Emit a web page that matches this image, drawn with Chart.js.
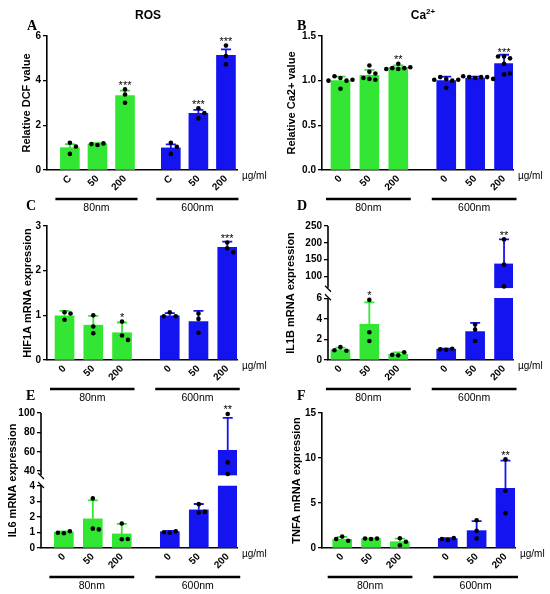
<!DOCTYPE html>
<html>
<head>
<meta charset="utf-8">
<script src="https://cdn.jsdelivr.net/npm/chart.js@4.4.0/dist/chart.umd.min.js"></script>
<style>
  body { margin: 0; background: #fff; width: 550px; height: 594px; position: relative; overflow: hidden; }
  .panel { position: absolute; }
</style>
</head>
<body>
<div class="panel" id="pA"><canvas></canvas></div>
<div class="panel" id="pB"><canvas></canvas></div>
<div class="panel" id="pC"><canvas></canvas></div>
<div class="panel" id="pD"><canvas></canvas></div>
<div class="panel" id="pE"><canvas></canvas></div>
<div class="panel" id="pF"><canvas></canvas></div>
<script>
// ---- data ----
const dosesC = ['C', '50', '200', 'C', '50', '200'];
const doses0 = ['0', '50', '200', '0', '50', '200'];
const sizes = ['80nm', '600nm'];

// A - ROS
const rosMean = [1.0, 1.17, 3.33, 0.99, 2.54, 5.13];
const rosErr = [0.16, 0.03, 0.22, 0.16, 0.15, 0.27];
const rosPts = [[1.22, 1.05, 0.72], [1.12, 1.19, 1.16], [3.61, 3.38, 3.01], [1.22, 1.04, 0.72], [2.76, 2.55, 2.31], [5.57, 5.1, 4.73]];
const rosSig = ['', '', '***', '', '***', '***'];
const rosTicks = [0, 2, 4, 6];

// B - Ca2+
const caMean = [1.0, 1.06, 1.15, 1.0, 1.03, 1.19];
const caErr = [0.045, 0.06, 0.02, 0.045, 0.015, 0.1];
const caPts = [[1.03, 1.0, 1.05, 1.01, 0.91, 1.0], [1.17, 1.1, 1.02, 1.01, 1.08, 1.03], [1.19, 1.14, 1.14, 1.13, 1.15, 1.13],
               [1.02, 1.0, 1.04, 1.01, 0.92, 1.01], [1.03, 1.04, 1.04, 1.04, 1.05, 1.02], [1.27, 1.25, 1.27, 1.19, 1.07, 1.08]];
const caSig = ['', '', '**', '', '', '***'];
const caTicks = [0, 0.5, 1.0, 1.5];

// C - HIF1A
const hifMean = [0.99, 0.78, 0.61, 0.99, 0.86, 2.52];
const hifErr = [0.11, 0.21, 0.23, 0.06, 0.24, 0.13];
const hifPts = [[1.07, 0.9, 1.04], [1.0, 0.75, 0.6], [0.86, 0.55, 0.45], [1.07, 0.98, 0.98], [1.04, 0.92, 0.61], [2.63, 2.5, 2.41]];
const hifSig = ['', '', '*', '', '', '***'];
const hifTicks = [0, 1, 2, 3];

// D - IL1B (broken axis)
const il1bMean = [1.0, 3.47, 0.55, 1.05, 2.76, 137];
const il1bErr = [0.2, 2.13, 0.2, 0.05, 0.84, 73];
const il1bPts = [[1.25, 0.9, 0.95], [5.84, 2.7, 1.85], [0.45, 0.75, 0.5], [1.0, 1.1, 1.05], [3.45, 2.95, 1.85], [210, 135, 70]];
const il1bSig = ['', '*', '', '', '', '**'];
const il1bTicks = [0, 2, 4, 6, 100, 150, 200, 250];

// E - IL6 (broken axis)
const il6Mean = [1.02, 1.88, 0.91, 1.05, 2.46, 61.5];
const il6Err = [0.05, 1.19, 0.65, 0.05, 0.38, 33.5];
const il6Pts = [[0.95, 1.08, 0.98], [3.2, 1.25, 1.2], [1.58, 0.56, 0.58], [0.98, 1.08, 1.02], [2.83, 2.29, 2.33], [99, 49, 37]];
const il6Sig = ['', '', '', '', '', '**'];
const il6Ticks = [0, 1, 2, 3, 4, 40, 60, 80, 100];

// F - TNFA
const tnfMean = [0.97, 1.05, 0.7, 1.05, 1.93, 6.62];
const tnfErr = [0.27, 0.02, 0.34, 0.05, 1.05, 3.08];
const tnfPts = [[1.27, 0.8, 1.0], [1.0, 1.05, 1.05], [1.08, 0.3, 0.7], [0.9, 1.1, 1.0], [3.09, 1.9, 1.05], [9.85, 6.36, 3.87]];
const tnfSig = ['', '', '', '', '', '**'];
const tnfTicks = [0, 5, 10, 15];

// ---- layout ----
const GREEN = '#33e633';
const BLUE = '#1414f0';
const xPos = [0, 1, 2, 3.66, 4.66, 5.66];
const FONT = '"Liberation Sans", Arial, sans-serif';

Chart.defaults.font.family = FONT;
Chart.defaults.color = '#000';
Chart.defaults.animation = false;

// linear scale with a gap between a low and a high segment
class BrokenScale extends Chart.LinearScale {
  getPixelForValue(v) {
    const o = this.options.brk;
    const h = this.bottom - this.top - o.gap;
    const hl = h * o.lowShare;
    if (v <= o.lowMax) return this.bottom - (v - this.min) / (o.lowMax - this.min) * hl;
    if (v >= o.highMin) return this.top + (this.max - v) / (this.max - o.highMin) * (h - hl);
    return this.bottom - hl - o.gap / 2;
  }
}
BrokenScale.id = 'broken';
BrokenScale.defaults = Chart.LinearScale.defaults;
Chart.register(BrokenScale);

function swarm(vals, toPx) {
  const placed = [];
  return vals.map(v => {
    const y = toPx(v);
    for (let k = 0; k < 11; k++) {
      const ox = (k % 2 ? 1 : -1) * Math.ceil(k / 2) * 6;
      if (placed.every(p => Math.hypot(p.x - ox, p.y - y) >= 5)) {
        placed.push({ x: ox, y });
        return ox;
      }
    }
    return 0;
  });
}

function makePanel(id, L, d) {
  const [bx, by, bw, bh] = L.box;
  const [pl, pt, pr, pb] = L.plot;
  const wrap = document.getElementById(id);
  Object.assign(wrap.style, { left: bx + 'px', top: by + 'px', width: bw + 'px', height: bh + 'px' });
  const colors = xPos.map((_, i) => i < 3 ? GREEN : BLUE);
  const brk = d.brk;
  const lowVals = d.means.map(m => brk ? Math.min(m, brk.lowMax) : m);

  const datasets = [
    { type: 'scatter', data: [], pointRadius: 2.3, pointBackgroundColor: '#000', pointBorderWidth: 0, order: 0, clip: false },
    { type: 'bar', data: xPos.map((x, i) => ({ x, y: lowVals[i] })), backgroundColor: colors, barThickness: 19, grouped: false, order: 2 }
  ];
  if (brk) {
    datasets.push({ type: 'bar', data: xPos.map((x, i) => ({ x, y: d.means[i] > brk.highMin ? [brk.highMin, d.means[i]] : null })),
      backgroundColor: colors, barThickness: 19, grouped: false, order: 1 });
  }

  const deco = {
    id: 'deco',
    beforeDatasetDraw(chart, args) {
      if (args.index !== 0) return;
      const ctx = chart.ctx, sx = chart.scales.x, sy = chart.scales.y;
      ctx.save();
      ctx.lineWidth = 1.8;
      d.means.forEach((m, i) => {
        const x = sx.getPixelForValue(xPos[i]);
        const y0 = sy.getPixelForValue(m), y1 = sy.getPixelForValue(m + d.errs[i]);
        ctx.strokeStyle = colors[i];
        ctx.beginPath();
        ctx.moveTo(x, y0); ctx.lineTo(x, y1);
        ctx.moveTo(x - 5, y1); ctx.lineTo(x + 5, y1);
        ctx.stroke();
      });
      ctx.restore();
    },
    afterDraw(chart) {
      const ctx = chart.ctx, sx = chart.scales.x, sy = chart.scales.y, a = chart.chartArea;
      ctx.save();
      ctx.fillStyle = '#000';
      ctx.strokeStyle = '#000';

      // significance stars
      ctx.font = '11px ' + FONT;
      ctx.textAlign = 'center';
      ctx.textBaseline = 'alphabetic';
      d.sig.forEach((s, i) => {
        if (!s) return;
        const x = sx.getPixelForValue(xPos[i]);
        let top = sy.getPixelForValue(d.means[i] + d.errs[i]);
        d.pts[i].forEach(v => { top = Math.min(top, sy.getPixelForValue(v) - 2.3); });
        ctx.fillText(s, x, top + 1.5);
      });

      // broken y axis
      if (brk) {
        const x = a.left;
        const yLow = sy.getPixelForValue(brk.lowMax), yHigh = sy.getPixelForValue(brk.highMin);
        ctx.lineWidth = 1.6;
        ctx.beginPath();
        ctx.moveTo(x, a.bottom); ctx.lineTo(x, yLow);
        ctx.moveTo(x, yHigh); ctx.lineTo(x, a.top);
        ctx.stroke();
        ctx.lineWidth = 1.2;
        ctx.beginPath();
        ctx.moveTo(x - 3, yLow - 4); ctx.lineTo(x + 3, yLow + 2);
        ctx.moveTo(x - 3, yHigh - 2); ctx.lineTo(x + 3, yHigh + 4);
        ctx.stroke();
      }

      // unit label
      ctx.font = '10px ' + FONT;
      ctx.textAlign = 'left';
      ctx.textBaseline = 'middle';
      ctx.fillText('\u00b5g/ml', a.right + 5, a.bottom + 6);

      // group bars
      ctx.lineWidth = 2.5;
      ctx.font = '10.5px ' + FONT;
      ctx.textAlign = 'center';
      sizes.forEach((s, g) => {
        const x0 = sx.getPixelForValue(xPos[g * 3]) - 14.5;
        const x1 = sx.getPixelForValue(xPos[g * 3 + 2]) + 12.5;
        ctx.beginPath();
        ctx.moveTo(x0, a.bottom + 29); ctx.lineTo(x1, a.bottom + 29);
        ctx.stroke();
        ctx.fillText(s, (x0 + x1) / 2, a.bottom + 38.5);
      });

      // panel letter
      ctx.font = 'bold 14px "Liberation Serif", "Times New Roman", serif';
      ctx.textAlign = 'left';
      ctx.textBaseline = 'alphabetic';
      ctx.fillText(L.letter, L.letterAt[0] - bx, L.letterAt[1] - by);

      // panel title
      if (L.title) {
        const tx = L.title.at[0] - bx, ty = L.title.at[1] - by;
        ctx.font = 'bold 12px ' + FONT;
        if (L.title.sup) {
          const w1 = ctx.measureText(L.title.text).width;
          ctx.font = 'bold 8px ' + FONT;
          const w2 = ctx.measureText(L.title.sup).width;
          const x0 = tx - (w1 + w2) / 2;
          ctx.fillText(L.title.sup, x0 + w1, ty - 5);
          ctx.font = 'bold 12px ' + FONT;
          ctx.fillText(L.title.text, x0, ty);
        } else {
          ctx.textAlign = 'center';
          ctx.fillText(L.title.text, tx, ty);
        }
      }
      ctx.restore();
    }
  };

  const chart = new Chart(wrap.querySelector('canvas'), {
    type: 'bar',
    data: { datasets },
    options: {
      responsive: true,
      maintainAspectRatio: false,
      events: [],
      layout: { padding: { left: 0, top: pt - by, right: bx + bw - pr, bottom: by + bh - pb - 30 } },
      plugins: { legend: { display: false }, tooltip: { enabled: false } },
      scales: {
        x: {
          type: 'linear', min: L.xr[0], max: L.xr[1], offset: false,
          grid: { display: false, drawTicks: false, tickLength: 0 },
          border: { color: '#000', width: 1.6 },
          afterBuildTicks: s => { s.ticks = xPos.map(v => ({ value: v })); },
          afterFit: s => { s.height = 30; },
          ticks: { autoSkip: false, minRotation: 45, maxRotation: 45, padding: 3,
                   font: { size: 10, weight: 'bold' }, callback: (v, i) => d.labels[i] }
        },
        y: {
          type: brk ? 'broken' : 'linear', min: 0, max: d.yTicks[d.yTicks.length - 1], brk,
          afterBuildTicks: s => { s.ticks = d.yTicks.map(v => ({ value: v })); },
          afterFit: s => { s.width = pl - bx; },
          grid: { drawOnChartArea: false, drawTicks: true, tickLength: 4, color: '#000', lineWidth: 1.3 },
          border: { display: !brk, color: '#000', width: 1.6 },
          ticks: { padding: 2, font: { size: 10, weight: 'bold' },
                   callback: v => d.dec ? Number(v).toFixed(d.dec) : v },
          title: { display: true, text: d.yTitle, font: { size: 11, weight: 'bold' },
                   padding: { top: L.titleX - 6.6, bottom: 0 } }
        }
      }
    },
    plugins: [deco]
  });

  // spread replicate dots sideways where they would overlap
  const sx = chart.scales.x, sy = chart.scales.y;
  const unit = sx.getPixelForValue(1) - sx.getPixelForValue(0);
  chart.data.datasets[0].data = d.pts.flatMap((vals, i) =>
    swarm(vals, v => sy.getPixelForValue(v)).map((ox, j) => ({ x: xPos[i] + ox / unit, y: vals[j] })));
  chart.update();
}

makePanel('pA', { box: [0, 0, 275, 215], plot: [47, 36, 237, 170], xr: [-0.83, 6.06], titleX: 27,
                  letter: 'A', letterAt: [27, 30], title: { text: 'ROS', at: [148, 19] } },
  { means: rosMean, errs: rosErr, pts: rosPts, sig: rosSig, yTicks: rosTicks, labels: dosesC, yTitle: 'Relative DCF value' });

makePanel('pB', { box: [275, 0, 275, 215], plot: [322, 36, 513, 170], xr: [-0.64, 5.97], titleX: 17,
                  letter: 'B', letterAt: [297, 30], title: { text: 'Ca', sup: '2+', at: [423, 19] } },
  { means: caMean, errs: caErr, pts: caPts, sig: caSig, yTicks: caTicks, dec: 1, labels: doses0, yTitle: 'Relative Ca2+ value' });

makePanel('pC', { box: [0, 195, 275, 215], plot: [47, 226, 237, 360], xr: [-0.61, 6.0], titleX: 28,
                  letter: 'C', letterAt: [26, 210] },
  { means: hifMean, errs: hifErr, pts: hifPts, sig: hifSig, yTicks: hifTicks, labels: doses0, yTitle: 'HIF1A mRNA expression' });

makePanel('pD', { box: [275, 195, 275, 215], plot: [328, 226, 513, 360], xr: [-0.43, 5.97], titleX: 16,
                  letter: 'D', letterAt: [297, 210] },
  { means: il1bMean, errs: il1bErr, pts: il1bPts, sig: il1bSig, yTicks: il1bTicks, labels: doses0, yTitle: 'IL1B mRNA expression',
    brk: { lowMax: 6, highMin: 66, gap: 10.5, lowShare: 0.5 } });

makePanel('pE', { box: [0, 390, 275, 204], plot: [41, 413, 237, 548], xr: [-0.79, 5.98], titleX: 13,
                  letter: 'E', letterAt: [26, 400] },
  { means: il6Mean, errs: il6Err, pts: il6Pts, sig: il6Sig, yTicks: il6Ticks, labels: doses0, yTitle: 'IL6 mRNA expression',
    brk: { lowMax: 4, highMin: 36, gap: 11, lowShare: 0.5 } });

makePanel('pF', { box: [275, 390, 275, 204], plot: [322, 413, 515, 548], xr: [-0.70, 5.99], titleX: 22,
                  letter: 'F', letterAt: [297, 400] },
  { means: tnfMean, errs: tnfErr, pts: tnfPts, sig: tnfSig, yTicks: tnfTicks, labels: doses0, yTitle: 'TNFA mRNA expression' });
</script>
</body>
</html>
